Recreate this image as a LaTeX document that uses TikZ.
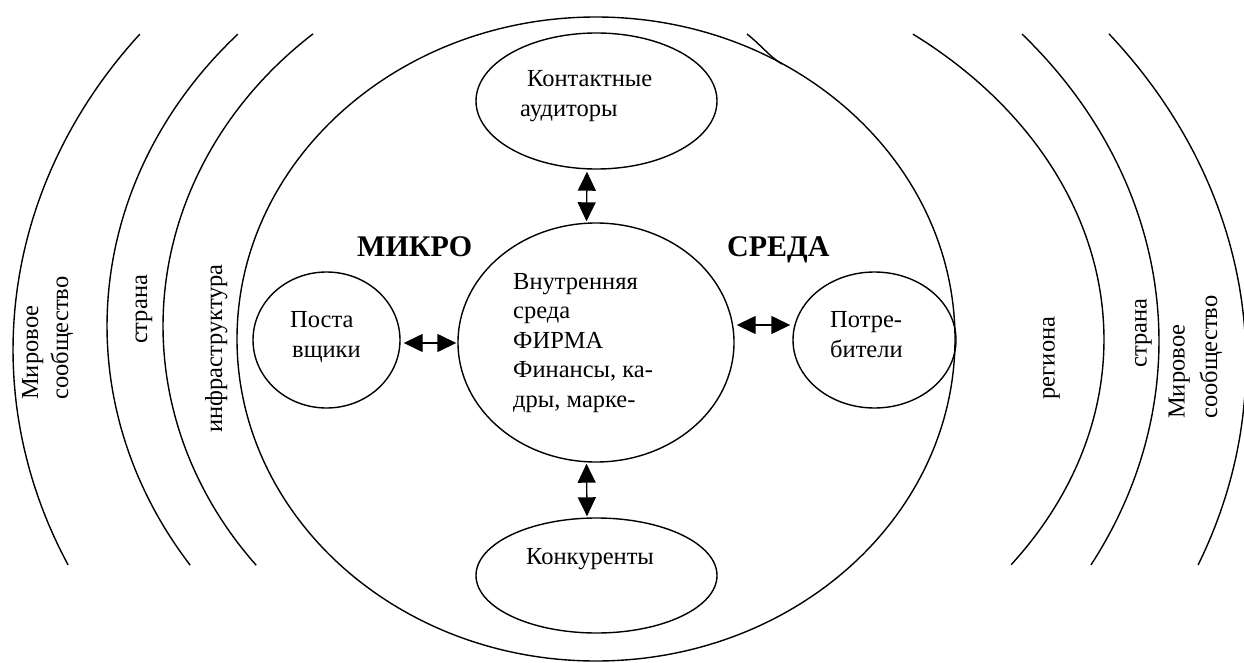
\documentclass[tikz,border=0pt]{standalone}
\usepackage{fontspec}
\setmainfont{Liberation Serif}
\usetikzlibrary{shapes.geometric,arrows.meta,calc}
\tikzset{
  ring/.style={line width=1.4pt},
  blob/.style={ellipse, draw, line width=1.4pt, inner sep=0pt},
  txt/.style={font=\fontsize{24.5}{29.5}\selectfont, inner sep=0pt, anchor=base west},
  vtxt/.style={txt, rotate=90},
  vtxtc/.style={font=\fontsize{24.5}{29.5}\selectfont, inner sep=0pt, anchor=base, rotate=90},
  bigtxt/.style={font=\fontsize{30}{34}\selectfont\bfseries, inner sep=0pt, anchor=base west},
  dbl/.style={{Triangle[length=19pt,width=18pt]}-{Triangle[length=19pt,width=18pt]}, line width=1.4pt}
}
\begin{document}
\begin{tikzpicture}[x=1pt,y=-1pt]
\useasboundingbox (0,0) rectangle (1244,663);
\clip (0,0) rectangle (1244,663);

% outer rings (left)
\draw[ring] plot[domain=154.9:218.5, samples=90] ({596+583*cos(\x)},{349.8+507*sin(\x)});
\draw[ring] plot[domain=146.1:222.9, samples=90] ({596+489*cos(\x)},{326+428.7*sin(\x)});
\draw[ring] plot[domain=141.7:229.2, samples=90] ({596+433*cos(\x)},{326+386*sin(\x)});
% outer rings (right)
\draw[ring] plot[domain=-51.4:35.2, samples=90] ({596+508*cos(\x)},{339.5+390.8*sin(\x)});
\draw[ring] plot[domain=-40.83:28.47, samples=90] ({596+563*cos(\x)},{341.1+469.7*sin(\x)});
\draw[ring] plot[domain=-37.88:22.14, samples=90] ({596+650*cos(\x)},{363+536*sin(\x)});
% big ellipse (micro environment)
\draw[ring] (596,339) ellipse [x radius=359pt, y radius=322pt];
\draw[ring] (747,34) .. controls (762,46) and (770,57) .. (782,64);

% inner ellipses
\node[blob, minimum width=241pt, minimum height=136pt] (kont) at (596.5,101) {};
\node[blob, minimum width=276pt, minimum height=239pt] (firm) at (596,342.5) {};
\node[blob, minimum width=147pt, minimum height=136pt] (post) at (326.5,340) {};
\node[blob, minimum width=163pt, minimum height=136pt] (potr) at (874.5,340) {};
\node[blob, minimum width=241pt, minimum height=115pt] (konk) at (596.5,575.5) {};

% arrows
\draw[dbl, shorten <=2pt, shorten >=1pt] ([xshift=-9.5pt]kont.south) -- ([xshift=-9.5pt]firm.north);
\draw[dbl, shorten <=1pt, shorten >=1pt] ([xshift=-9.5pt]firm.south) -- ([xshift=-9.5pt]konk.north);
\draw[dbl, shorten <=3pt, shorten >=1pt] ([yshift=-3pt]post.east) -- ([yshift=-3pt]post.east -| firm.west);
\draw[dbl] ($(firm.east)+(2,-17.5)$) -- ($(potr.west)+(-2,-15)$);

% texts in ellipses
\node[txt] (k1) at (527,87) {Контактные};
\node[txt] (k2) at (520,117) {аудиторы};
\node[txt] (p1) at (290,327) {Поста};
\node[txt] (p2) at (292,357) {вщики};
\node[txt] (c1) at (830,327) {Потре-};
\node[txt] (c2) at (830,357) {бители};
\node[txt] (f1) at (513,289) {Внутренняя};
\node[txt] (f2) at (513,318.5) {среда};
\node[txt] (f3) at (513,348) {ФИРМА};
\node[txt] (f4) at (513,377.5) {Финансы, ка-};
\node[txt] (f5) at (513,407) {дры, марке-};
\node[txt] (kk) at (526,564) {Конкуренты};
\node[bigtxt] (mikro) at (357,256) {МИКРО};
\node[bigtxt] (sreda) at (727,256) {СРЕДА};

% ring labels
\node[vtxt] (lw1) at (38,400) {Мировое};
\node[vtxt] (lw2) at (68,400) {сообщество};
\node[vtxtc] (ls) at (147,309.5) {страна};
\node[vtxtc] (li) at (222,348.5) {инфраструктура};
\node[vtxtc] (rr) at (1054.5,358) {региона};
\node[vtxtc] (rs) at (1146.5,333) {страна};
\node[vtxt] (rw1) at (1184.5,419) {Мировое};
\node[vtxt] (rw2) at (1217,419) {сообщество};
\end{tikzpicture}
\end{document}
